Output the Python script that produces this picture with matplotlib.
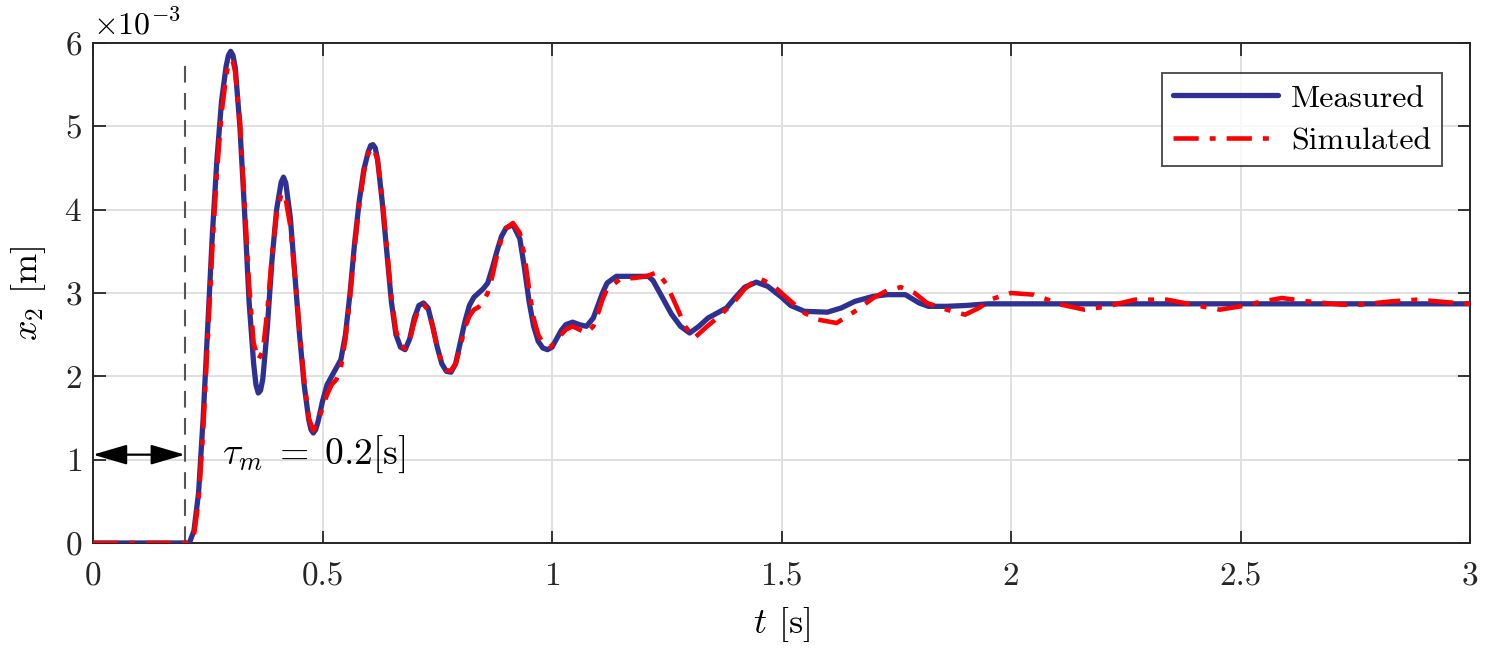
import matplotlib
matplotlib.use("Agg")
import matplotlib.pyplot as plt

plt.rcParams['mathtext.fontset'] = 'cm'
plt.rcParams['font.family'] = ['cmr10', 'DejaVu Serif']
plt.rcParams['axes.formatter.use_mathtext'] = True

# Measured (blue) : time [s], x2 [x1e-3 m]
t_meas = [0.0, 0.20, 0.21, 0.22, 0.23, 0.24, 0.25, 0.26, 0.27, 0.28, 0.29, 0.295, 0.30,
          0.305, 0.31, 0.32, 0.33, 0.34, 0.35, 0.355, 0.36, 0.365, 0.37, 0.38, 0.39, 0.40, 0.41, 0.415,
          0.42, 0.43, 0.44, 0.45, 0.46, 0.47, 0.475, 0.48, 0.485, 0.49, 0.50, 0.51, 0.52, 0.53,
          0.54, 0.55, 0.56, 0.57, 0.58, 0.59, 0.60, 0.605, 0.61, 0.615, 0.62, 0.63, 0.64, 0.65,
          0.66, 0.67, 0.68, 0.69, 0.70, 0.71, 0.72, 0.73, 0.74, 0.75, 0.76, 0.77,
          0.78, 0.79, 0.80, 0.81, 0.82, 0.83, 0.84, 0.85, 0.86, 0.87, 0.88, 0.89,
          0.90, 0.915, 0.93, 0.94, 0.95, 0.96, 0.97, 0.98, 0.99, 1.00, 1.01, 1.02,
          1.03, 1.045, 1.06, 1.075, 1.09, 1.10, 1.11, 1.12, 1.14, 1.17, 1.21, 1.22,
          1.24, 1.26, 1.28, 1.30, 1.32, 1.34, 1.36, 1.38, 1.40, 1.42, 1.445, 1.47,
          1.50, 1.52, 1.55, 1.60, 1.63, 1.66, 1.70, 1.73, 1.77, 1.80, 1.82, 1.86,
          1.90, 1.95, 2.00, 2.50, 3.00]
x_meas = [0.0, 0.0, 0.0, 0.15, 0.6, 1.5, 2.6, 3.7, 4.6, 5.3, 5.72, 5.85, 5.9,
          5.85, 5.7, 5.0, 4.0, 2.9, 2.15, 1.9, 1.8, 1.83, 1.97, 2.6, 3.4, 4.0, 4.33, 4.39,
          4.32, 3.9, 3.2, 2.5, 1.9, 1.48, 1.36, 1.32, 1.36, 1.45, 1.7, 1.9, 2.0, 2.1,
          2.2, 2.5, 3.0, 3.6, 4.1, 4.48, 4.7, 4.77, 4.78, 4.74, 4.6, 4.1, 3.5, 2.9,
          2.5, 2.35, 2.32, 2.45, 2.7, 2.85, 2.88, 2.82, 2.6, 2.35, 2.15, 2.06,
          2.05, 2.15, 2.4, 2.65, 2.85, 2.95, 3.0, 3.05, 3.12, 3.3, 3.5, 3.68,
          3.78, 3.82, 3.65, 3.3, 2.9, 2.6, 2.42, 2.34, 2.32, 2.35, 2.45, 2.55,
          2.62, 2.65, 2.62, 2.6, 2.7, 2.85, 3.0, 3.12, 3.2, 3.2, 3.2, 3.15,
          2.95, 2.75, 2.6, 2.52, 2.6, 2.7, 2.76, 2.82, 2.95, 3.07, 3.13, 3.08,
          2.95, 2.85, 2.78, 2.77, 2.82, 2.9, 2.96, 2.98, 2.98, 2.88, 2.84, 2.84,
          2.85, 2.87, 2.87, 2.87, 2.87]

# Simulated (red)
t_sim = [0.0, 0.20, 0.21, 0.22, 0.23, 0.24, 0.25, 0.26, 0.27, 0.28, 0.29, 0.295, 0.30,
         0.305, 0.31, 0.32, 0.33, 0.34, 0.35, 0.36, 0.37, 0.38, 0.39, 0.40, 0.41, 0.415,
         0.42, 0.43, 0.44, 0.45, 0.46, 0.47, 0.48, 0.49, 0.50, 0.51, 0.52, 0.53,
         0.54, 0.55, 0.56, 0.57, 0.58, 0.59, 0.60, 0.61, 0.62, 0.63, 0.64, 0.65,
         0.66, 0.67, 0.68, 0.69, 0.70, 0.71, 0.72, 0.73, 0.74, 0.75, 0.76, 0.77,
         0.78, 0.79, 0.80, 0.81, 0.82, 0.83, 0.84, 0.85, 0.86, 0.87, 0.88, 0.89,
         0.90, 0.915, 0.93, 0.94, 0.95, 0.96, 0.97, 0.98, 0.995, 1.01, 1.02, 1.03,
         1.045, 1.06, 1.075, 1.09, 1.10, 1.11, 1.12, 1.15, 1.18, 1.205, 1.23, 1.25,
         1.272, 1.29, 1.31, 1.338, 1.36, 1.395, 1.42, 1.45, 1.48, 1.51, 1.55, 1.58,
         1.62, 1.66, 1.70, 1.73, 1.76, 1.79, 1.817, 1.86, 1.90, 1.93, 1.96, 2.00,
         2.05, 2.11, 2.16, 2.21, 2.27, 2.34, 2.405, 2.455, 2.50, 2.55, 2.59, 2.645,
         2.72, 2.76, 2.83, 2.885, 2.97, 3.00]
x_sim = [0.0, 0.0, 0.0, 0.1, 0.5, 1.35, 2.45, 3.55, 4.45, 5.15, 5.6, 5.75, 5.8,
         5.77, 5.65, 5.05, 4.1, 3.1, 2.4, 2.2, 2.3, 2.8, 3.45, 3.95, 4.18, 4.2,
         4.12, 3.8, 3.2, 2.55, 1.95, 1.5, 1.35, 1.45, 1.62, 1.78, 1.9, 1.96,
         2.1, 2.45, 2.95, 3.55, 4.05, 4.45, 4.68, 4.75, 4.6, 4.15, 3.55, 2.95,
         2.55, 2.38, 2.33, 2.43, 2.65, 2.82, 2.86, 2.8, 2.6, 2.35, 2.16, 2.07,
         2.07, 2.15, 2.35, 2.58, 2.72, 2.8, 2.83, 2.9, 3.0, 3.2, 3.45, 3.65,
         3.78, 3.84, 3.72, 3.45, 3.05, 2.7, 2.5, 2.4, 2.35, 2.42, 2.5, 2.56,
         2.6, 2.56, 2.52, 2.6, 2.75, 2.92, 3.05, 3.17, 3.18, 3.2, 3.25, 3.1,
         2.83, 2.6, 2.46, 2.6, 2.7, 2.88, 3.05, 3.18, 3.1, 2.95, 2.76, 2.68,
         2.64, 2.78, 2.94, 3.03, 3.07, 3.0, 2.88, 2.8, 2.74, 2.82, 2.93, 3.0,
         2.98, 2.86, 2.8, 2.84, 2.92, 2.92, 2.85, 2.8, 2.84, 2.9, 2.94, 2.9,
         2.86, 2.86, 2.9, 2.92, 2.88, 2.87]

x_ticks = [0, 0.5, 1, 1.5, 2, 2.5, 3]
x_ticklabels = ['0', '0.5', '1', '1.5', '2', '2.5', '3']
y_ticks = [0, 1, 2, 3, 4, 5, 6]
delay = 0.2
legend_labels = ['Measured', 'Simulated']

W, H = 1495, 657
fig = plt.figure(figsize=(W / 100, H / 100), dpi=100)
ax = fig.add_axes([93 / W, (H - 543) / H, (1470 - 93) / W, (543 - 43) / H])

blue = '#2E3192'
red = '#FF0000'
ax.plot(t_meas, x_meas, color=blue, lw=3.8, label=legend_labels[0], zorder=3,
        solid_joinstyle='round', solid_capstyle='round')
ax.plot(t_sim, x_sim, color=red, lw=3.3, ls=(0, (5.5, 2.4, 1.3, 2.4)), label=legend_labels[1],
        zorder=4, dash_joinstyle='round')

ax.plot([delay, delay], [0, 5.78], color='#555555', lw=1.5, ls=(0, (8, 5)), zorder=2)
ax.annotate('', xy=(0, 1.06), xytext=(delay, 1.06),
            arrowprops=dict(arrowstyle='<|-|>,head_length=0.75,head_width=0.22', color='black', lw=1.6,
                            mutation_scale=28, shrinkA=0, shrinkB=0), zorder=5)
ax.text(0.28, 1.06, r'$\tau_m\;=\;0.2$[s]', fontsize=27, va='center', ha='left')

ax.set_xlim(0, 3)
ax.set_ylim(0, 6)
ax.set_xticks(x_ticks)
ax.set_xticklabels(x_ticklabels)
ax.set_yticks(y_ticks)
ax.tick_params(direction='in', length=9, width=1.3, labelsize=24, top=True, right=True,
               colors='#262626', pad=8)
ax.tick_params(axis='x', pad=14)
ax.grid(True, color='#E0E0E0', lw=1.4)
ax.set_axisbelow(True)
for s in ax.spines.values():
    s.set_color('#262626')
    s.set_linewidth(1.4)

ax.set_xlabel(r'$t$ [s]', fontsize=26, labelpad=10)
ax.set_ylabel(r'$x_2$ [m]', fontsize=26, labelpad=12)
ax.text(0.0, 1.006, r'$\times10^{-3}$', transform=ax.transAxes, fontsize=23, ha='left', va='bottom')

leg = ax.legend(loc='upper right', fontsize=23, frameon=True, fancybox=False,
                edgecolor='#262626', handlelength=3.3, borderpad=0.35,
                labelspacing=0.45, handletextpad=0.4, borderaxespad=0,
                bbox_to_anchor=(0.980, 0.94))
leg.get_frame().set_linewidth(1.4)

fig.savefig('out.png', dpi=100)
